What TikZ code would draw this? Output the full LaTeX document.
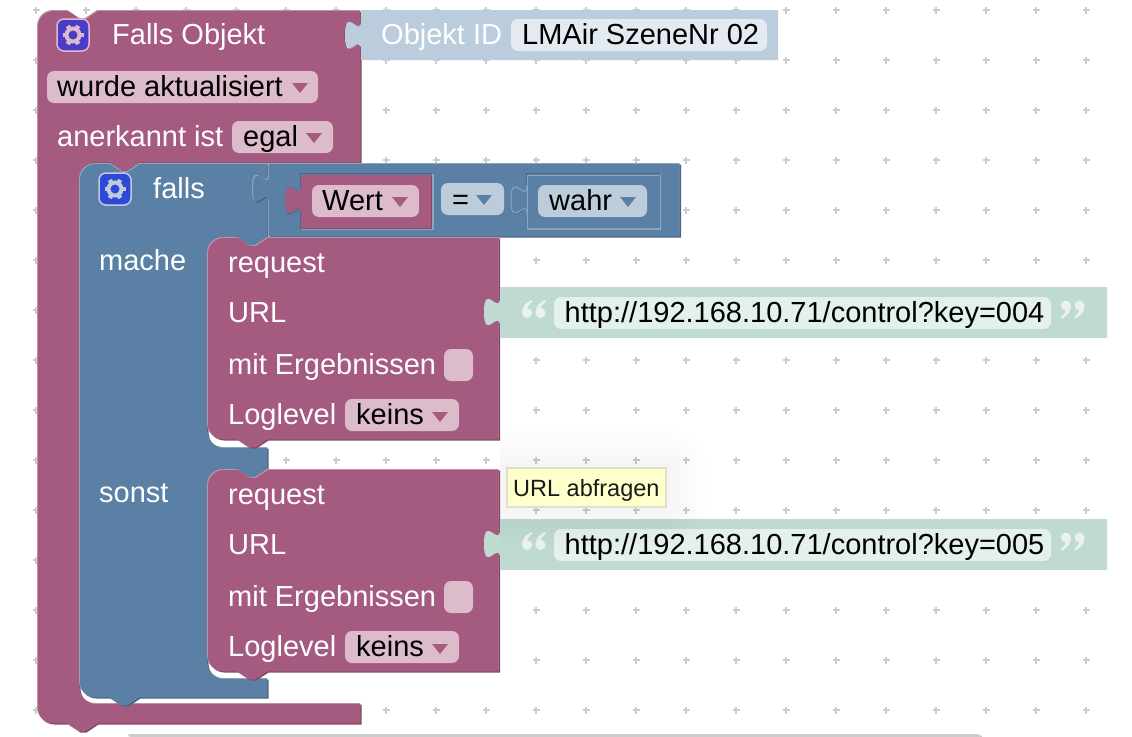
\documentclass[tikz,border=0pt]{standalone}
\usepackage{fontspec}
\setmainfont{Liberation Sans}
\usepackage{xcolor}
\definecolor{plum}{HTML}{A55B80}
\definecolor{plumlight}{HTML}{C08FA8}
\definecolor{plumdark}{HTML}{844966}
\definecolor{plumfield}{HTML}{DCBBCB}
\definecolor{steel}{HTML}{5B80A5}
\definecolor{steellight}{HTML}{8CA6C0}
\definecolor{steeldark}{HTML}{496684}
\definecolor{steelfield}{HTML}{BDCCDB}
\definecolor{objpale}{HTML}{BBCCDC}
\definecolor{objfield}{HTML}{E4EAF1}
\definecolor{mint}{HTML}{BFDAD0}
\definecolor{mintfield}{HTML}{E4F0EC}
\definecolor{gridplus}{HTML}{CCCCCC}
\definecolor{headviolet}{HTML}{4A3CC8}
\definecolor{headblue}{HTML}{3048D8}
\definecolor{tipyellow}{HTML}{FFFFCC}
\definecolor{tipedge}{HTML}{DFDFCF}
% puzzle tab, running downwards on the edge x=#1 from y=#2
\newcommand\tabdown[2]{-- (#1,#2+10) .. controls (#1,#2+30) and (#1-16,#2-6) .. (#1-16,#2+25)
  .. controls (#1-16,#2+56) and (#1,#2+20) .. (#1,#2+40)}
\newcommand\notch[2]{-- (#1,#2) -- (#1+12,#2+8) -- (#1+18,#2+8) -- (#1+30,#2)}
\newcommand\notchback[2]{-- (#1+30,#2) -- (#1+18,#2+8) -- (#1+12,#2+8) -- (#1,#2)}
\newcommand\cnr[2]{arc[start angle=#1,end angle=#2,radius=16]}
% main, light, dark, path
\newcommand\blockfill[4]{
  \fill[#3,xshift=1.5pt,yshift=-1.5pt] #4;
  \fill[#2] #4;
  \begin{scope}
    \clip #4;
    \fill[#1,xshift=1pt,yshift=-1pt] #4;
  \end{scope}
}
\newcommand\droptri[3]{\fill[#3] (#1,#2) -- ++(16,0) -- ++(-8,10) -- cycle;}
\newcommand\gearicon[4]{
  \filldraw[fill=#3,draw=#4,line width=1.5pt,rounded corners=7pt] (#1-16,#2-16) rectangle (#1+16,#2+16);
  \draw[#4,line width=4pt] (#1,#2) circle (6.5);
  \foreach \a in {0,60,...,300}{
    \draw[#4,line width=4.5pt] (#1,#2) ++(\a:6) -- ++(\a:4.5);
  }
}
\newcommand\quoteglyph{
  \fill (5,13) circle (5);
  \fill (10,0) .. controls (3,2) and (0,8) .. (0,13) -- (5,11) .. controls (5,7) and (7,4) .. (10,2) -- cycle;
}
\tikzset{
  lbl/.style={anchor=base west,inner sep=0pt,text=white,font=\fontsize{29}{30}\selectfont},
  fld/.style={lbl,text=black},
  pill/.style={rounded corners=7pt}
}

\begin{document}
\begin{tikzpicture}[x=1pt,y=-1pt]
  \useasboundingbox (0,0) rectangle (1132,736);
  \fill[white] (0,0) rectangle (1132,736);

  \foreach \x in {36,86,...,1086}{
    \foreach \y in {10,60,...,710}{
      \draw[gridplus,line width=2pt] (\x-3.5,\y) -- (\x+3.5,\y) (\x,\y-3.5) -- (\x,\y+3.5);
    }
  }
  \fill[gridplus,rounded corners=3pt] (128,737) -- (128,734) -- (978,734) -- (984,737) -- cycle;

  % outer block
  \blockfill{plum}{plumlight}{plumdark}{(37,26) \cnr{180}{270} \notch{67}{10} -- (360,10) \tabdown{360}{10} -- (360,162)
    \notchback{109}{162} -- (95,162) \cnr{270}{180} -- (79,687) \cnr{180}{90} -- (360,703) -- (360,723) \notchback{67}{723}
    -- (53,723) \cnr{90}{180} -- cycle}
  \fill[objpale] (361,10) \tabdown{361}{10} -- (361,60) -- (778,60) -- (778,10) -- cycle;

  % falls block
  \blockfill{steel}{steellight}{steeldark}{(79,179) \cnr{180}{270} \notch{109}{163} -- (267,163) -- (267,237) \notchback{237}{237}
    -- (223,237) \cnr{270}{180} -- (207,431) \cnr{180}{90} -- (267,447) -- (267,469) \notchback{237}{469}
    -- (223,469) \cnr{270}{180} -- (207,662) \cnr{180}{90} -- (267,678) -- (267,697) \notchback{109}{697}
    -- (95,697) \cnr{90}{180} -- cycle}
  \blockfill{steel}{steellight}{steeldark}{(268,163) \tabdown{268}{163} -- (268,236) -- (679.5,236) -- (679.5,163) -- cycle}

  % comparison slots
  \draw[steeldark,line width=1.5pt] (300.5,229) -- (300.5,173.5) -- (432,173.5);
  \draw[steellight,line width=1.5pt] (433,173.5) -- (433,229) -- (300.5,229);
  \draw[steeldark,line width=1pt,xshift=0.5pt,yshift=-0.5pt] (301,175) \tabdown{301}{175};
  \fill[plum] (301,175) \tabdown{301}{175} -- (301,228) -- (431,228) -- (431,175) -- cycle;
  \draw[plumdark,line width=1pt] (431,175) -- (431,228) -- (301,228);
  \draw[steeldark,line width=1.5pt] (526.5,229) -- (526.5,173.5) -- (660,173.5);
  \draw[steellight,line width=1.5pt] (660.5,173.5) -- (660.5,229) -- (526.5,229);
  \draw[steeldark,line width=1.5pt,xshift=0.5pt,yshift=-0.5pt] (527,175) \tabdown{527}{175};
  \fill[steel] (527,175) \tabdown{527}{175} -- (527,228) -- (659,228) -- (659,175) -- cycle;
  \draw[steellight,line width=1pt] (527,185) \tabdown{527}{175} -- (527,228);
  \draw[steellight,line width=1pt] (527,228) -- (527,175) -- (659,175);

  % request blocks
  \foreach \dy/\key/\nm in {0/004/a,232/005/b}{
    \begin{scope}[yshift=-\dy pt]
      \blockfill{plum}{plumlight}{plumdark}{(207,253) \cnr{180}{270} \notch{237}{237} -- (498.5,237) -- (498.5,439) \notchback{237}{439}
        -- (223,439) \cnr{90}{180} -- cycle}
      \fill[mint] (500,287) \tabdown{500}{287} -- (500,338) -- (1107,338) -- (1107,287) -- cycle;
      \fill[mintfield,pill] (554,297) rectangle (1051,329);
      \begin{scope}[shift={(522,300)},white!65!mint]
        \quoteglyph
      \end{scope}
      \begin{scope}[shift={(535.5,300)},white!65!mint]
        \quoteglyph
      \end{scope}
      \begin{scope}[shift={(1071,318.5)},rotate=180,white!65!mint]
        \quoteglyph
      \end{scope}
      \begin{scope}[shift={(1084.5,318.5)},rotate=180,white!65!mint]
        \quoteglyph
      \end{scope}
      \fill[plumfield,pill] (444,349) rectangle (473,381);
      \fill[plumfield,pill] (345,399) rectangle (459,431);
      \droptri{432}{412}{plum}
      \node[lbl] (request\nm) at (228,272) {request};
      \node[lbl] (url\nm) at (228,322) {URL};
      \node[lbl] (ergebnis\nm) at (228,374) {mit Ergebnissen};
      \node[lbl] (loglevel\nm) at (228,424) {Loglevel};
      \node[fld] (keins\nm) at (356,424) {keins};
      \node[fld] (http\nm) at (564.5,322) {http://192.168.10.71/control?key=\key};
    \end{scope}
  }

  % fields
  \gearicon{73}{35}{headviolet}{plumfield}
  \gearicon{115}{189}{headblue}{steelfield}
  \fill[plumfield,pill] (47,71) rectangle (318,103);
  \fill[plumfield,pill] (232,121) rectangle (333,153);
  \fill[objfield,pill] (511,19) rectangle (767,51);
  \fill[plumfield,pill] (312,185) rectangle (419,217);
  \fill[steelfield,pill] (441,183) rectangle (504,215);
  \fill[steelfield,pill] (538,185) rectangle (647,217);
  \droptri{292}{83}{plum}
  \droptri{306}{133}{plum}
  \droptri{392}{197}{plum}
  \droptri{476}{195}{steel}
  \droptri{620}{197}{steel}

  \node[lbl] (fallsobjekt) at (112,44) {Falls Objekt};
  \node[lbl] (objektid) at (381,44) {Objekt ID};
  \node[fld] (szene) at (522,44) {LMAir SzeneNr 02};
  \node[fld] (wurde) at (57,96) {wurde aktualisiert};
  \node[lbl] (anerkannt) at (57,146) {anerkannt ist};
  \node[fld] (egal) at (243,146) {egal};
  \node[lbl] (falls) at (153,198) {falls};
  \node[fld] (wert) at (322,210) {Wert};
  \node[fld] (gleich) at (452,209) {=};
  \node[fld] (wahr) at (549,210) {wahr};
  \node[lbl] (mache) at (99,270) {mache};
  \node[lbl] (sonst) at (99,502) {sonst};

  % tooltip
  \begin{scope}
    \clip (500,420) rectangle (720,560);
    \foreach \r in {4,8,...,40}{
      \fill[black,opacity=0.004,rounded corners=\r pt] (507-\r,468-\r) rectangle (666+\r,507+\r);
    }
  \end{scope}
  \filldraw[fill=tipyellow,draw=tipedge,line width=2pt] (507,468) rectangle (666,507);
  \node[lbl,text=black!90,font=\fontsize{23.5}{25}\selectfont] (tip) at (513,496) {URL abfragen};
\end{tikzpicture}
\end{document}
